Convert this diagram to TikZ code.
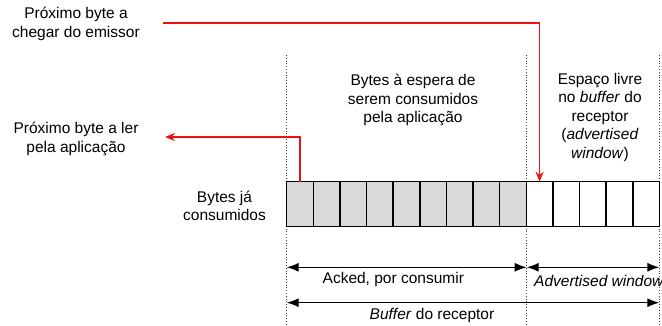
\documentclass[tikz,border=0pt]{standalone}
\usepackage{fontspec}
\setmainfont{Liberation Sans}
\usetikzlibrary{arrows.meta}
\definecolor{cellgray}{HTML}{D9D9D9}
\definecolor{arrowred}{HTML}{F01010}
\begin{document}
\begin{tikzpicture}[x=1pt,y=-1pt,
  lbl/.style={font=\fontsize{15.5}{18.5}\selectfont, align=center, inner sep=0pt},
  cell/.style={draw=black, line width=1.5pt, minimum width=26.62pt, minimum height=45pt, inner sep=0pt, outer sep=0pt, anchor=north west},
  acked/.style={cell, fill=cellgray},
  freecell/.style={cell, fill=white},
  guide/.style={dotted, line width=0.8pt, black!75},
  redarrow/.style={draw=arrowred, line width=1.5pt, -{Stealth[length=10pt,width=8pt]}},
  dim/.style={line width=1.3pt, {Latex[length=12pt,width=9pt]}-{Latex[length=12pt,width=9pt]}}]
\useasboundingbox (0,0) rectangle (662,325);
% guides
\coordinate (g1t) at (286.7,55);  \coordinate (g1b) at (286.7,325);
\coordinate (g2t) at (526.7,55);  \coordinate (g2b) at (526.7,325);
\coordinate (g3t) at (659.3,55);  \coordinate (g3b) at (659.3,325);
\draw[guide] (g1t) -- (g1b);
\draw[guide] (g2t) -- (g2b);
\draw[guide] (g3t) -- (g3b);
% cells
\foreach \i in {0,...,8} \node[acked] (c\i) at ({286.7+26.62*\i},181.7) {};
\foreach \i in {9,...,13} \node[freecell] (c\i) at ({286.7+26.62*\i},181.7) {};
% labels
\node[lbl] (l1) at (76,24) {Próximo byte a\\chegar do emissor};
\node[lbl] (l2) at (76,139) {Próximo byte a ler\\pela aplicação};
\node[lbl] (l3) at (224.5,206) {Bytes já\\consumidos};
\node[lbl] (l4) at (413,100) {Bytes à espera de\\serem consumidos\\pela aplicação};
\node[lbl] (l5) at (600,117) {Espaço livre\\no \textit{buffer} do\\receptor\\(\textit{advertised}\\\textit{window})};
% red arrows
\coordinate (s1) at (163,23);
\draw[redarrow] (s1) -| (c9.north);
\coordinate (t2) at (165,137);
\draw[redarrow] (c0.north) |- (t2);
% dimension arrows
\coordinate (a1) at (286.7,267.3);
\coordinate (a2) at (526.7,267.3);
\coordinate (a3) at (659.3,267.3);
\coordinate (b1) at (286.7,302.7);
\coordinate (b2) at (659.3,302.7);
\draw[dim] (a1) -- (a2);
\draw[dim] (a2) -- (a3);
\draw[dim] (b1) -- (b2);
\node[lbl, anchor=base] (d1) at (393.3,283.3) {Acked, por consumir};
\node[lbl, anchor=base west] (d2) at (534,286.7) {\textit{Advertised window}};
\node[lbl, anchor=base] (d3) at (432,319.3) {\textit{Buffer} do receptor};
\end{tikzpicture}
\end{document}
